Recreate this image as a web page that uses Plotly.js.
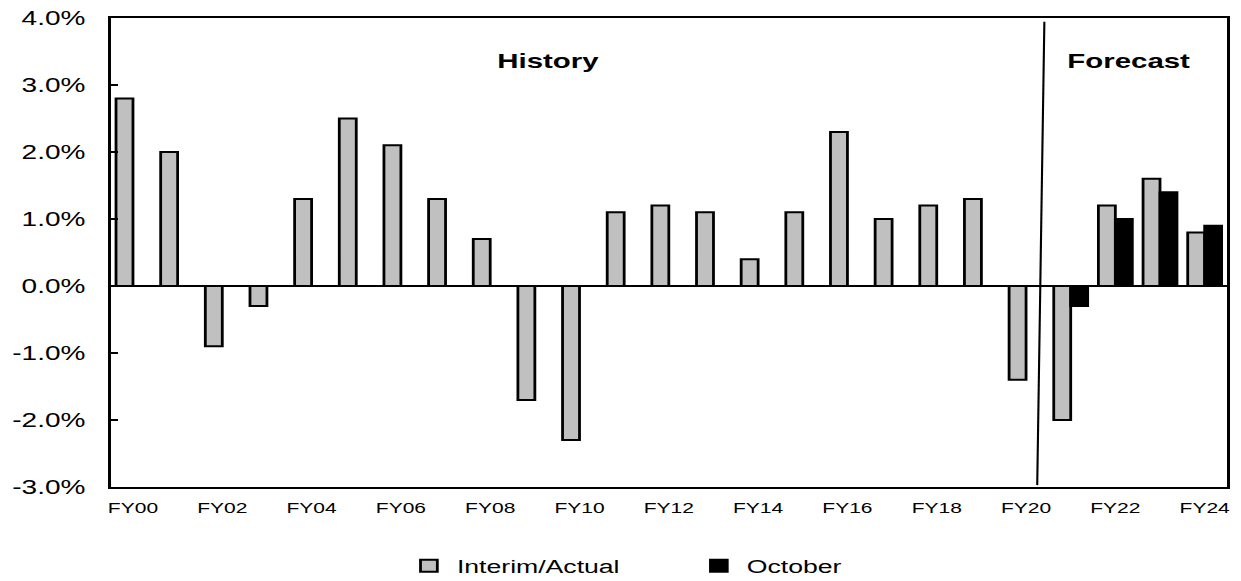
<!DOCTYPE html>
<html>
<head>
<meta charset="utf-8">
<script src="https://cdn.plot.ly/plotly-3.0.1.min.js"></script>
<style>
  html, body { margin: 0; padding: 0; background: #ffffff; overflow: hidden; }
  /* the chart is laid out narrow and widened horizontally */
  #chart { width: 886px; height: 581px; transform: scaleX(1.40068); transform-origin: 0 0; }
</style>
</head>
<body>
<div id="chart"></div>
<script>
// Fiscal years
const years = ["FY00","FY01","FY02","FY03","FY04","FY05","FY06","FY07","FY08","FY09",
               "FY10","FY11","FY12","FY13","FY14","FY15","FY16","FY17","FY18","FY19",
               "FY20","FY21","FY22","FY23","FY24"];

// Annual growth, percent
const interimActual = [2.8, 2.0, -0.9, -0.3, 1.3, 2.5, 2.1, 1.3, 0.7, -1.7,
                       -2.3, 1.1, 1.2, 1.1, 0.4, 1.1, 2.3, 1.0, 1.2, 1.3,
                       -1.4, -2.0, 1.2, 1.6, 0.8];
const october = [null, null, null, null, null, null, null, null, null, null,
                 null, null, null, null, null, null, null, null, null, null,
                 null, -0.3, 1.0, 1.4, 0.9];

// Labelled ticks on the category axis
const yearTicks = ["FY00","FY02","FY04","FY06","FY08","FY10","FY12","FY14","FY16","FY18","FY20","FY22","FY24"];

// Value axis ticks
const pctTicks = [-3, -2, -1, 0, 1, 2, 3, 4];
const pctTickText = ["-3.0%","-2.0%","-1.0%","0.0%","1.0%","2.0%","3.0%","4.0%"];

const FONT = "Liberation Sans, Arial, sans-serif";

const traces = [
  {
    type: "bar",
    name: "Interim/Actual",
    x: years,
    y: interimActual,
    marker: { color: "#c0c0c0", line: { color: "#000000", width: 2 } },
    hoverinfo: "x+y"
  },
  {
    type: "bar",
    name: "October",
    x: years,
    y: october,
    marker: { color: "#000000", line: { color: "#000000", width: 2 } },
    hoverinfo: "x+y"
  }
];

const layout = {
  width: 886,
  height: 581,
  margin: { l: 79, r: 10, t: 18, b: 94, autoexpand: false },
  paper_bgcolor: "#ffffff",
  plot_bgcolor: "#ffffff",
  font: { family: FONT, color: "#000000" },
  barmode: "group",
  bargap: 0.24,
  bargroupgap: 0,
  showlegend: true,
  legend: {
    orientation: "h",
    x: 0.26, xanchor: "left",
    yref: "container",
    y: 0.026, yanchor: "middle",
    font: { family: FONT, size: 19, color: "#000000" },
    entrywidth: 162,
    entrywidthmode: "pixels",
    traceorder: "normal",
    bgcolor: "rgba(0,0,0,0)"
  },
  xaxis: {
    type: "category",
    categoryorder: "array",
    categoryarray: years,
    range: [-0.5, 24.5],
    tickmode: "array",
    tickvals: yearTicks,
    ticktext: yearTicks,
    ticks: "",
    ticklabelstandoff: 6,
    tickfont: { family: FONT, size: 15, color: "#000000" },
    showgrid: false,
    zeroline: false,
    showline: true,
    linecolor: "#000000",
    linewidth: 2,
    mirror: true,
    automargin: false,
    fixedrange: true
  },
  yaxis: {
    range: [-3, 4],
    tickmode: "array",
    tickvals: pctTicks,
    ticktext: pctTickText,
    ticks: "inside",
    ticklen: 5,
    tickwidth: 2,
    tickcolor: "#000000",
    ticklabelstandoff: 12,
    tickfont: { family: FONT, size: 20, color: "#000000" },
    showgrid: false,
    zeroline: true,
    zerolinecolor: "#000000",
    zerolinewidth: 2,
    showline: true,
    linecolor: "#000000",
    linewidth: 2,
    mirror: true,
    automargin: false,
    fixedrange: true
  },
  shapes: [
    {
      // divider between history and forecast
      type: "line",
      xref: "x", yref: "paper",
      x0: 20.41, y0: 0.992,
      x1: 20.25, y1: 0.004,
      line: { color: "#000000", width: 1.5 }
    }
  ],
  annotations: [
    {
      text: "<b>History</b>",
      xref: "paper", yref: "paper",
      x: 0.392, y: 0.91,
      xanchor: "center", yanchor: "middle",
      showarrow: false,
      font: { family: FONT, size: 21, color: "#000000" }
    },
    {
      text: "<b>Forecast</b>",
      xref: "paper", yref: "paper",
      x: 0.912, y: 0.91,
      xanchor: "center", yanchor: "middle",
      showarrow: false,
      font: { family: FONT, size: 21, color: "#000000" }
    }
  ]
};

Plotly.newPlot("chart", traces, layout, { displayModeBar: false, responsive: false });
</script>
</body>
</html>
